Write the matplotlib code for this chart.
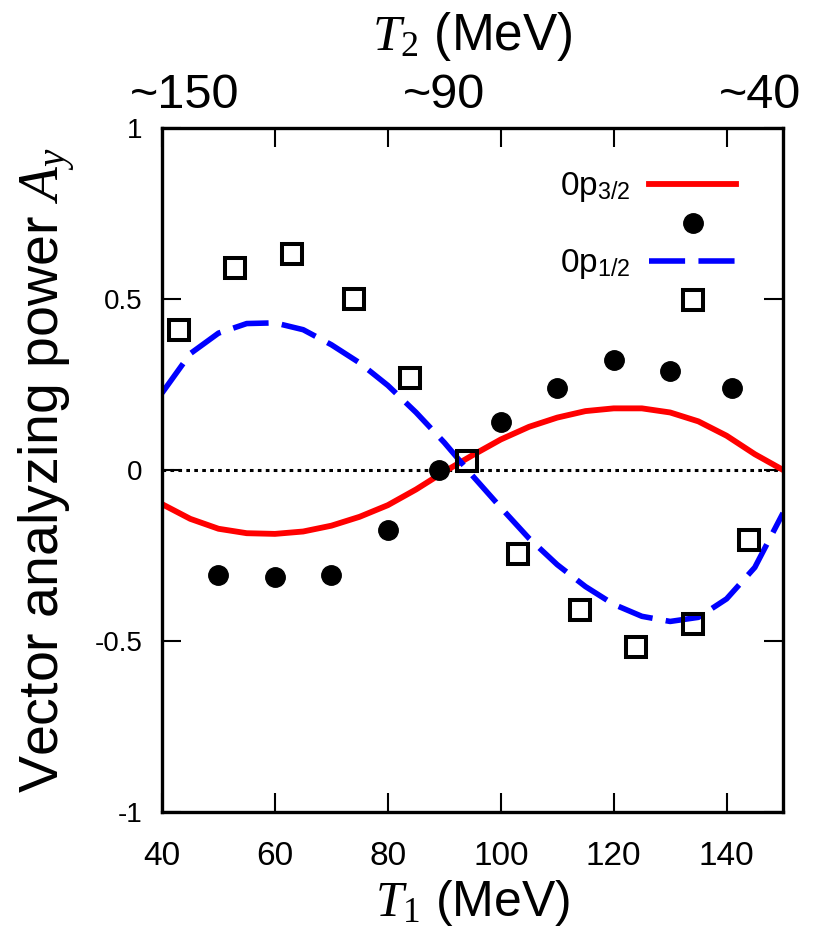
import matplotlib
matplotlib.use('Agg')
import matplotlib.pyplot as plt

# calculated analyzing power curves, read every 5 MeV in T1
t1_calc = [40, 45, 50, 55, 60, 65, 70, 75, 80, 85, 90, 95,
           100, 105, 110, 115, 120, 125, 130, 135, 140, 145, 150]
ay_p32 = [-0.100, -0.143, -0.172, -0.185, -0.187, -0.180, -0.163, -0.137,
          -0.103, -0.057, -0.005, 0.043, 0.089, 0.126, 0.153, 0.172,
          0.180, 0.180, 0.168, 0.142, 0.100, 0.046, 0.0]
ay_p12 = [0.225, 0.340, 0.400, 0.428, 0.430, 0.410, 0.366, 0.313,
          0.247, 0.168, 0.080, -0.017, -0.110, -0.200, -0.277, -0.341,
          -0.393, -0.428, -0.443, -0.431, -0.377, -0.285, -0.126]

# measured points
t1_circ = [50, 60, 70, 80, 89, 100, 110, 120, 130, 141]
ay_circ = [-0.307, -0.313, -0.307, -0.175, 0.0, 0.14, 0.24, 0.32, 0.29, 0.24]

t1_sq = [43, 53, 63, 74, 84, 94, 103, 114, 124, 134, 144]
ay_sq = [0.41, 0.59, 0.63, 0.50, 0.27, 0.026, -0.245, -0.41, -0.517, -0.45, -0.205]

x_ticks = [40, 60, 80, 100, 120, 140]
y_ticks = [-1, -0.5, 0, 0.5, 1]
y_tick_labels = ['-1', '-0.5', '0', '0.5', '1']

# approximate T2 values shown along the top edge
t2_pos = [44, 90, 146]
t2_labels = ['~150', '~90', '~40']

plt.rcParams['font.family'] = ['Liberation Sans', 'DejaVu Sans']
plt.rcParams['mathtext.fontset'] = 'custom'
plt.rcParams['mathtext.rm'] = 'Liberation Serif'
plt.rcParams['mathtext.it'] = 'Liberation Serif:italic'
plt.rcParams['mathtext.sf'] = 'Liberation Sans'

fig = plt.figure(figsize=(8.28, 9.35), dpi=100)
ax = fig.add_axes([0.1957, 0.1316, 0.75, 0.7316])

ax.axhline(0, color='black', lw=2.2, ls=(0, (1.2, 1.4)), zorder=1)
l32, = ax.plot(t1_calc, ay_p32, color='#ff0000', lw=4.2, zorder=2)
l12, = ax.plot(t1_calc, ay_p12, color='#0000ff', lw=4.0, dashes=(6.5, 2.4), zorder=2)
circ, = ax.plot(t1_circ, ay_circ, 'o', color='black', ms=14, zorder=3)
sq, = ax.plot(t1_sq, ay_sq, 's', mfc='none', mec='black', mew=2.9, ms=14, zorder=3)

ax.set_xlim(40, 150)
ax.set_ylim(-1, 1)
ax.set_xticks(x_ticks)
ax.set_yticks(y_ticks)
ax.set_yticklabels(y_tick_labels)

ax.tick_params(direction='in', length=14, width=1.5, top=True, right=True)
ax.tick_params(axis='x', labelsize=24, pad=21)
ax.tick_params(axis='y', labelsize=20, pad=14)
for side in ax.spines.values():
    side.set_linewidth(2.4)

for x, lab in zip(t2_pos, t2_labels):
    ax.annotate(lab, xy=(x, 1), xycoords=('data', 'axes fraction'),
                xytext=(0, 14), textcoords='offset points',
                ha='center', va='baseline', fontsize=35)

ax.set_xlabel('$T_1$ (MeV)', fontsize=36, labelpad=4)
ax.set_title('$T_2$ (MeV)', fontsize=37, pad=56)
ax.set_ylabel('Vector analyzing power $A_y$', fontsize=40, labelpad=12)

ax.legend([l32, circ, l12, sq],
          ['0p$_{\\mathsf{3/2}}$', '', '0p$_{\\mathsf{1/2}}$', ''],
          loc='upper right', bbox_to_anchor=(0.924, 0.938),
          markerfirst=False, frameon=False, numpoints=1,
          handlelength=2.6, handletextpad=0.55, labelspacing=0.18,
          borderpad=0, borderaxespad=0, prop={'size': 24})

fig.savefig('out.png', dpi=100)
